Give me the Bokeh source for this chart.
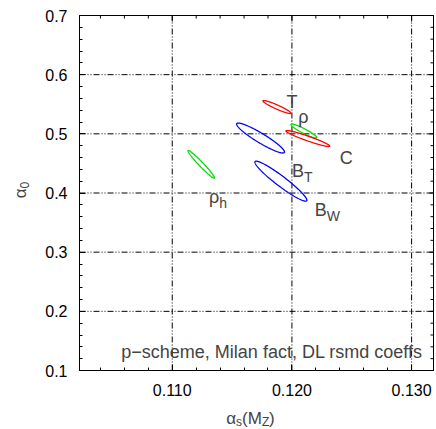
import numpy as np
from bokeh.plotting import figure
from bokeh.models import Range1d, LinearAxis, FixedTicker, PrintfTickFormatter, Label
from bokeh.embed import file_html
from bokeh.resources import INLINE

# One-sigma contours of the (alpha_s(M_Z), alpha_0) fits, one per observable
obs_base = ["T", "ρ", "C", "B", "B", "ρ"]
obs_sub = ["", "", "", "T", "W", "h"]
obs_color = ["#ff0000", "#00e000", "#ff0000", "#0000ff", "#0000ff", "#00e000"]
alpha_s = [0.11875, 0.12100, 0.12133, 0.11738, 0.11908, 0.11242]
alpha_0 = [0.5453, 0.5047, 0.4921, 0.4929, 0.4200, 0.4485]
sigma_as = [0.00117, 0.00108, 0.00183, 0.00200, 0.00217, 0.00111]
sigma_a0 = [0.0110, 0.0118, 0.0135, 0.0253, 0.0338, 0.0234]
corr = [-0.94, -0.93, -0.95, -0.93, -0.95, -0.975]

# label anchor points (data coordinates, text baseline)
lab_x = [0.12000, 0.12096, 0.12454, 0.12100, 0.12292, 0.11392]
lab_y = [0.5546, 0.5292, 0.4600, 0.4380, 0.3705, 0.3924]

note_text = "p\u2212scheme, Milan fact, DL rsmd coeffs"

# axis ticks
x_major = [0.110, 0.120, 0.130]
x_minor = [0.104, 0.106, 0.108, 0.112, 0.114, 0.116, 0.118,
           0.122, 0.124, 0.126, 0.128]
y_major = [0.1, 0.2, 0.3, 0.4, 0.5, 0.6, 0.7]
y_minor = [round(0.1 + 0.02 * i, 2) for i in range(31) if i % 5]

# plotting box and its place on the canvas
X_LO, X_HI = 0.10225, 0.13183
Y_LO, Y_HI = 0.1, 0.7
W, H = 436, 429
BOX_L, BOX_R, BOX_T, BOX_B = 79, 433, 15, 370
kx = (X_HI - X_LO) / (BOX_R - BOX_L)
ky = (Y_HI - Y_LO) / (BOX_B - BOX_T)
FONT = "Liberation Sans"

p = figure(width=W, height=H,
           x_range=Range1d(X_LO - BOX_L * kx, X_HI + (W - BOX_R) * kx),
           y_range=Range1d(Y_LO - (H - BOX_B) * ky, Y_HI + BOX_T * ky),
           output_backend="svg", toolbar_location=None,
           x_axis_type=None, y_axis_type=None,
           min_border=0)
p.background_fill_color = "white"
p.border_fill_color = "white"
p.outline_line_color = None
p.xgrid.visible = False
p.ygrid.visible = False

MAJ, MIN = 6, 3  # tick lengths in px


def make_axis(ticks, minor, fmt, loc, bounds, standoff):
    ax = LinearAxis(ticker=FixedTicker(ticks=ticks, minor_ticks=minor),
                    formatter=PrintfTickFormatter(format=fmt),
                    fixed_location=loc, bounds=bounds)
    ax.axis_line_color = "black"
    ax.major_tick_line_color = "black"
    ax.minor_tick_line_color = "black"
    ax.major_tick_in = MAJ
    ax.major_tick_out = 0
    ax.minor_tick_in = MIN
    ax.minor_tick_out = 0
    ax.major_label_text_font = FONT
    ax.major_label_text_font_size = "16px"
    ax.major_label_text_color = "black"
    ax.major_label_standoff = standoff
    return ax


# dash-dot-dot grid inside the box
p.segment(x0=x_major, x1=x_major, y0=[Y_LO] * len(x_major), y1=[Y_HI] * len(x_major),
          line_color="black", line_width=1, line_dash="6 2 1 2 1 2")
p.segment(x0=[X_LO] * len(y_major), x1=[X_HI] * len(y_major), y0=y_major, y1=y_major,
          line_color="black", line_width=1, line_dash="6 2 1 2 1 2")

# box and mirrored ticks on top and right
p.quad(left=[X_LO], right=[X_HI], bottom=[Y_LO], top=[Y_HI],
       fill_color=None, line_color="black", line_width=1)
for ticks, ln in ((x_major, MAJ), (x_minor, MIN)):
    p.segment(x0=ticks, x1=ticks, y0=[Y_HI] * len(ticks),
              y1=[Y_HI - ln * ky] * len(ticks), line_color="black", line_width=1)
for ticks, ln in ((y_major, MAJ), (y_minor, MIN)):
    p.segment(x0=[X_HI] * len(ticks), x1=[X_HI - ln * kx] * len(ticks),
              y0=ticks, y1=ticks, line_color="black", line_width=1)

p.add_layout(make_axis(x_major, x_minor, "%.3f", Y_LO, (X_LO, X_HI), 13), "below")
p.add_layout(make_axis(y_major, y_minor, "%.1f", X_LO, (Y_LO, Y_HI), 12), "left")

# contour curves from centre, widths and correlation
t = np.linspace(0.0, 2.0 * np.pi, 240)
for cx, cy, sx, sy, r, col in zip(alpha_s, alpha_0, sigma_as, sigma_a0, corr, obs_color):
    ex = cx + sx * np.cos(t)
    ey = cy + sy * (r * np.cos(t) + np.sqrt(1.0 - r * r) * np.sin(t))
    p.line(ex, ey, line_color=col, line_width=1.3)


def sub_label(x, y, base, sub, size, sub_size, drop, x_off=0, y_off=0, angle=0.0):
    """Base text ending at the anchor, subscript starting there, lowered by `drop` px."""
    if not sub:
        p.add_layout(Label(x=x, y=y, text=base, text_font=FONT, text_font_size=size,
                           text_align="center", text_baseline="alphabetic",
                           x_offset=x_off, y_offset=y_off, angle=angle))
        return
    p.add_layout(Label(x=x, y=y, text=base, text_font=FONT, text_font_size=size,
                       text_align="right", text_baseline="alphabetic",
                       x_offset=x_off, y_offset=y_off, angle=angle))
    if angle:
        sx_off, sy_off = x_off + drop, y_off
    else:
        sx_off, sy_off = x_off, y_off - drop
    p.add_layout(Label(x=x, y=y, text=sub, text_font=FONT, text_font_size=sub_size,
                       text_align="left", text_baseline="alphabetic",
                       x_offset=sx_off, y_offset=sy_off, angle=angle))


for x, y, b, s in zip(lab_x, lab_y, obs_base, obs_sub):
    sub_label(x, y, b, s, "18px", "14px", 6)

# annotation in the lower right corner
p.add_layout(Label(x=0.13092, y=0.1306, text=note_text, text_font=FONT,
                   text_font_size="18px", text_align="right", text_baseline="middle"))

# x axis title: alpha_s(M_Z)
ax_anchor = 0.11533
xs = [
    ("\u03b1", "17px", "right", 0, 0),
    ("s", "12px", "left", 0, -3),
    ("(M", "17px", "left", 6, 0),
    ("Z", "12px", "left", 26, -3),
    (")", "17px", "left", 33, 0),
]
for txt, size, align, dx, dy in xs:
    p.add_layout(Label(x=ax_anchor, y=Y_LO, text=txt, text_font=FONT,
                       text_font_size=size, text_align=align, text_baseline="alphabetic",
                       x_offset=dx, y_offset=-48 + dy))

# y axis title: alpha_0 (rotated)
sub_label(X_LO, 0.4076, "\u03b1", "0", "17px", "12px", 4, x_off=-59, angle=np.pi / 2)

open("out.html", "w").write(file_html(p, INLINE))
